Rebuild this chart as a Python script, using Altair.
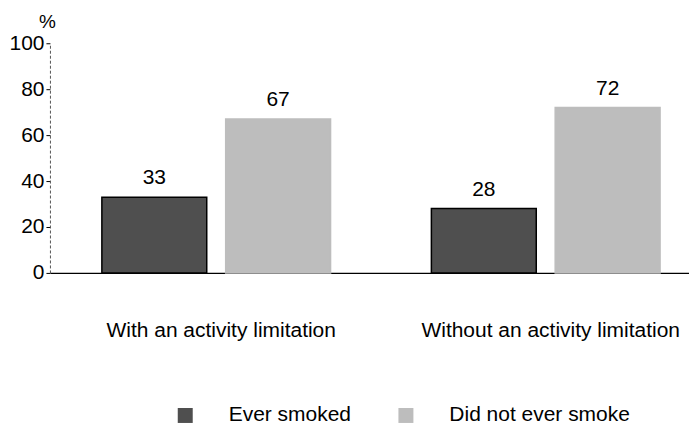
import altair as alt
import pandas as pd

groups = ["With an activity limitation", "Without an activity limitation"]
series = ["Ever smoked", "Did not ever smoke"]
ever_smoked = [33, 28]
did_not_smoke = [67, 72]
y_ticks = [0, 20, 40, 60, 80, 100]
colors = ["#4f4f4f", "#bdbdbd"]
strokes = ["#000000", "#bdbdbd"]

rows = []
for g, a, b in zip(groups, ever_smoked, did_not_smoke):
    rows.append({"group": g, "series": series[0], "value": a})
    rows.append({"group": g, "series": series[1], "value": b})
df = pd.DataFrame(rows)

FONT = "Liberation Sans"
FS = 21

x = alt.X(
    "group:N", sort=groups, title=None,
    scale=alt.Scale(paddingInner=0.2424, paddingOuter=0.0909, align=0.692),
    axis=alt.Axis(labelAngle=0, labelFontSize=FS, labelFont=FONT, labelColor="black",
                  labelLimit=0, ticks=False, tickSize=0, labelPadding=47, labelOffset=5,
                  domainColor="black", domainWidth=1.2),
)
xoff = alt.XOffset("series:N", sort=series,
                   scale=alt.Scale(paddingInner=0.153, paddingOuter=0.0846))
y = alt.Y(
    "value:Q", scale=alt.Scale(domain=[0, 100]),
    axis=alt.Axis(values=y_ticks, title="%", titleAngle=0, titleX=-3, titleY=-16,
                  titleAlign="center", titleBaseline="alphabetic", titleFontSize=19,
                  titleFontWeight="normal", titleFont=FONT, titleColor="black",
                  labelFontSize=FS, labelFont=FONT, labelColor="black",
                  tickSize=4, labelPadding=2, tickColor="black",
                  domainDash=[3, 2], domainColor="#555555", grid=False),
)

base = alt.Chart(df).encode(x=x, xOffset=xoff, y=y)

bars = base.mark_bar(strokeWidth=1.5).encode(
    color=alt.Color(
        "series:N", sort=series,
        scale=alt.Scale(domain=series, range=colors),
        legend=alt.Legend(title=None, orient="none", legendX=125, legendY=362,
                          direction="horizontal", symbolType="square", symbolSize=225,
                          symbolStrokeWidth=0, labelFontSize=FS, labelFont=FONT,
                          labelColor="black", labelOffset=33, columnPadding=44,
                          labelLimit=0, padding=0),
    ),
    stroke=alt.Stroke("series:N", scale=alt.Scale(domain=series, range=strokes), legend=None),
)

labels = base.mark_text(baseline="bottom", dy=-9, fontSize=FS, font=FONT, color="black").encode(
    text="value:Q"
)

chart = alt.layer(bars, labels).properties(
    width=640, height=230,
    padding={"left": 42, "top": 35, "right": 0, "bottom": 155},
    autosize=alt.AutoSizeParams(type="none"),
).configure_view(stroke=None)

chart.save("out.html", embed_options={"renderer": "svg", "actions": False})
